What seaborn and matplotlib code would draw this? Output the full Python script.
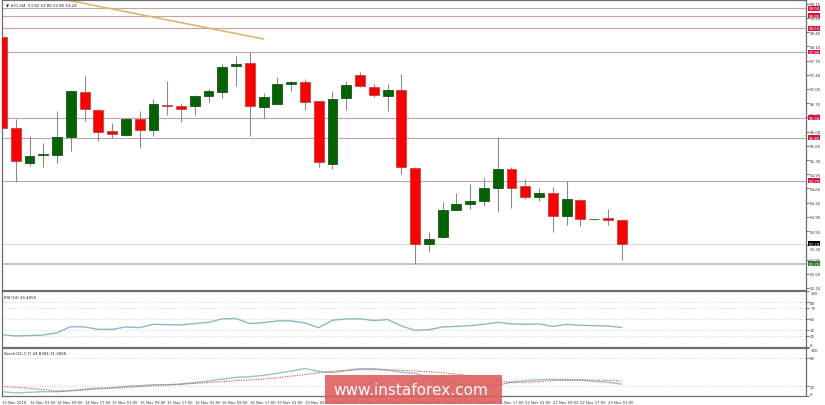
import numpy as np
import pandas as pd
import matplotlib
matplotlib.use("Agg")
import matplotlib.pyplot as plt
import matplotlib.transforms as mtransforms
import seaborn as sns
from matplotlib.patches import Rectangle

sns.set_style("white")
plt.rcParams['font.family'] = ['DejaVu Sans']

# CL H4 candles, 13 Nov 2018 -> 23 Nov 2018
opens = [58.34, 56.09, 55.23, 55.43, 55.43, 55.86, 56.97, 56.54, 56.01, 55.91,
         56.31, 56.04, 56.65, 56.62, 56.63, 56.87, 56.97, 57.61, 57.68, 56.61,
         56.69, 57.16, 57.23, 56.75, 55.19, 56.82, 57.40, 57.10, 56.88, 57.03,
         55.11, 53.24, 53.40, 54.07, 54.21, 54.29, 54.60, 55.08, 54.66, 54.40,
         54.50, 53.91, 54.31, 53.84, 53.87, 53.82]
highs = [58.38, 56.32, 55.90, 55.73, 56.50, 57.00, 57.37, 56.55, 56.21, 56.33,
         56.50, 56.80, 57.25, 56.70, 56.89, 57.05, 57.67, 57.87, 57.97, 56.95,
         57.34, 57.25, 57.29, 56.76, 57.00, 57.25, 57.46, 57.16, 57.16, 57.42,
         55.12, 53.52, 54.26, 54.48, 54.71, 54.85, 55.86, 55.14, 54.83, 54.60,
         54.64, 54.79, 54.34, 53.85, 54.09, 53.86]
lows = [56.05, 54.77, 55.16, 55.14, 55.22, 55.53, 56.25, 55.78, 55.84, 55.88,
        55.59, 55.90, 56.42, 56.23, 56.41, 56.74, 56.82, 57.13, 55.90, 56.34,
        56.69, 57.00, 56.54, 55.13, 55.08, 56.54, 57.10, 56.84, 56.51, 54.95,
        52.75, 53.04, 53.38, 54.06, 54.09, 54.16, 54.01, 54.13, 54.34, 54.28,
        53.52, 53.70, 53.68, 53.83, 53.71, 52.85]
closes = [56.09, 55.27, 55.40, 55.43, 55.87, 56.99, 56.55, 55.99, 55.93, 56.32,
          56.04, 56.68, 56.62, 56.55, 56.88, 56.99, 57.60, 57.67, 56.63, 56.84,
          57.17, 57.21, 56.73, 55.24, 56.81, 57.15, 57.12, 56.89, 57.02, 55.13,
          53.23, 53.36, 54.07, 54.21, 54.29, 54.60, 55.08, 54.62, 54.40, 54.49,
          53.93, 54.34, 53.84, 53.84, 53.82, 53.24]

rsi = [21.5, 19.3, 20.0, 20.9, 25.1, 36.0, 35.5, 31.1, 31.1, 35.5,
       34.2, 40.2, 39.6, 39.1, 41.5, 43.8, 50.0, 50.5, 41.5, 43.3,
       46.4, 46.4, 42.7, 34.2, 47.5, 50.0, 50.0, 46.9, 48.7, 37.3,
       29.3, 30.5, 35.5, 36.5, 37.8, 40.2, 43.8, 40.9, 40.2, 40.9,
       36.5, 40.2, 38.4, 37.8, 37.3, 34.47]
stoch_main = [9.0, 6.3, 7.7, 9.0, 9.0, 11.0, 14.2, 16.3, 17.1, 20.0,
              21.5, 23.5, 23.5, 25.0, 27.7, 31.3, 35.4, 38.8, 40.2, 43.1,
              47.3, 52.0, 57.3, 51.5, 48.5, 53.0, 57.0, 57.0, 54.0, 49.4,
              47.0, 40.0, 32.0, 25.0, 21.0, 20.0, 22.0, 29.2, 31.9, 34.0,
              34.7, 34.0, 33.3, 30.6, 28.5, 24.84]
stoch_signal = [20.2, 18.0, 16.0, 13.5, 10.0, 11.0, 12.5, 14.6, 16.5, 18.0,
                20.0, 21.5, 23.0, 24.5, 26.4, 27.8, 30.0, 32.0, 33.5, 35.4,
                38.0, 41.5, 44.5, 48.5, 51.5, 53.5, 55.0, 55.0, 54.4, 53.5,
                52.0, 50.5, 48.5, 45.5, 42.0, 37.0, 31.5, 28.0, 28.5, 30.0,
                32.0, 33.0, 33.3, 33.3, 32.5, 31.27]

level_prices = [59.04, 58.85, 58.55, 57.96, 56.34, 55.85, 54.79]
current_price = 53.24
support_price = 52.75
trend_x = [4.7, 19.0]
trend_y = [59.24, 58.28]

price_ticks = [52.15, 52.50, 52.85, 53.20, 53.55, 53.90, 54.25, 54.60, 54.95,
               55.30, 55.65, 56.00, 56.35, 56.70, 57.05, 57.40, 57.75, 58.10,
               58.45, 58.80, 59.15]
rsi_levels = [20, 30, 50, 70, 80]
rsi_ticks = [0, 20, 30, 50, 70, 80, 100]
stoch_levels = [20, 80]
stoch_ticks = [0, 20, 80, 100]
date_labels = ['13 Nov 2018', '14 Nov 01:00', '14 Nov 09:00', '14 Nov 17:00',
               '15 Nov 01:00', '15 Nov 09:00', '15 Nov 17:00', '16 Nov 01:00',
               '16 Nov 09:00', '16 Nov 17:00', '19 Nov 01:00', '19 Nov 09:00',
               '19 Nov 17:00', '20 Nov 01:00', '20 Nov 09:00', '20 Nov 17:00',
               '21 Nov 01:00', '21 Nov 09:00', '21 Nov 17:00', '22 Nov 01:00',
               '22 Nov 09:00', '22 Nov 17:00', '23 Nov 01:00']

df = pd.DataFrame({'open': opens, 'high': highs, 'low': lows, 'close': closes,
                   'rsi': rsi, 'main': stoch_main, 'signal': stoch_signal})
df['x'] = np.arange(len(df))
df['bottom'] = df[['open', 'close']].min(axis=1)
df['height'] = (df['close'] - df['open']).abs().clip(lower=0.012)
df['up'] = df['close'] >= df['open']

W, H = 825, 406
fig = plt.figure(figsize=(W / 100, H / 100), dpi=100)
left, width = 2 / W, 804 / W
ax_p = fig.add_axes([left, 1 - 291 / H, width, 290 / H])
ax_r = fig.add_axes([left, 1 - 347.7 / H, width, 55.7 / H])
ax_s = fig.add_axes([left, 1 - 397 / H, width, 48 / H])

xlim = (0.0, 58.39)
fs = 2.9
txt = '#333333'
box = dict(boxstyle='square,pad=0.12', ec='none')

# price panel
for p in level_prices:
    ax_p.axhline(p, color='#c9a0a8', lw=0.8, zorder=1)
    ax_p.text(1.003, p, f'{p:.2f}', transform=ax_p.get_yaxis_transform(),
              fontsize=fs, color='white', va='center', ha='left', clip_on=False,
              zorder=20, bbox=dict(box, fc='#d3163f'))
ax_p.axhline(current_price, color='#dcdcdc', lw=0.8, zorder=1)
ax_p.text(1.003, current_price, f'{current_price:.2f}', transform=ax_p.get_yaxis_transform(),
          fontsize=fs, color='white', va='center', ha='left', clip_on=False,
          zorder=20, bbox=dict(box, fc='black'))
ax_p.axhline(support_price, color='#b8cab8', lw=1.4, zorder=1)
ax_p.text(1.003, support_price, f'{support_price:.2f}', transform=ax_p.get_yaxis_transform(),
          fontsize=fs, color='white', va='center', ha='left', clip_on=False,
          zorder=20, bbox=dict(box, fc='#2e7d32'))
ax_p.plot(trend_x, trend_y, color='#d8b870', lw=1.2, zorder=1)

ax_p.vlines(df['x'], df['low'], df['high'], color='#8a8a8a', lw=0.8, zorder=2)
up = df[df['up']]
dn = df[~df['up']]
ax_p.bar(up['x'], up['height'], bottom=up['bottom'], width=0.72,
         color='#006400', edgecolor='#0d3d0d', lw=0.5, zorder=3)
ax_p.bar(dn['x'], dn['height'], bottom=dn['bottom'], width=0.72,
         color='#ff0000', edgecolor='#b83a3a', lw=0.5, zorder=3)

ax_p.set_ylim(52.10, 59.24)
ax_p.set_yticks(price_ticks)
ax_p.set_yticklabels([f'{t:.2f}' for t in price_ticks])
ax_p.text(0.005, 0.993, '\u25bc #CL,H4  53.82 53.86 52.85 53.24', transform=ax_p.transAxes,
          fontsize=fs, color='#222222', va='top', ha='left')

# RSI panel
for lv in rsi_levels:
    ax_r.axhline(lv, color='#c4c4c4', lw=0.6, ls=(0, (1, 2)))
sns.lineplot(data=df, x='x', y='rsi', ax=ax_r, color='#8fb5c9', lw=1.0)
ax_r.set_ylim(0, 100)
ax_r.set_yticks(rsi_ticks)
ax_r.text(0.003, 0.93, 'RSI(14) 34.4655', transform=ax_r.transAxes,
          fontsize=fs, color='#222222', va='top', ha='left')

# Stochastic panel
for lv in stoch_levels:
    ax_s.axhline(lv, color='#c4c4c4', lw=0.6, ls=(0, (1, 2)))
sns.lineplot(data=df, x='x', y='main', ax=ax_s, color='#92c6cf', lw=1.0)
sns.lineplot(data=df, x='x', y='signal', ax=ax_s, color='#d04848', lw=0.8, ls=(0, (1, 1.2)))
ax_s.set_ylim(0, 100)
ax_s.set_yticks(stoch_ticks)
ax_s.text(0.003, 0.93, 'Stoch(21,7,7) 24.8394 31.2666', transform=ax_s.transAxes,
          fontsize=fs, color='#222222', va='top', ha='left')
ax_s.set_xticks(np.arange(0, len(df), 2))
ax_s.set_xticklabels(date_labels, ha='left')

for ax in (ax_p, ax_r, ax_s):
    ax.set_xlim(*xlim)
    ax.set_xlabel('')
    ax.set_ylabel('')
    ax.yaxis.tick_right()
    ax.tick_params(axis='y', labelsize=fs, length=2, width=0.5, pad=1, colors=txt)
    ax.grid(False)
    for s in ax.spines.values():
        s.set_color('#6e6e6e')
        s.set_linewidth(0.9)
    if ax is not ax_s:
        ax.set_xticks([])
ax_s.tick_params(axis='x', labelsize=2.7, length=2, width=0.5, pad=1, colors=txt)

# keep the 0 / 100 labels inside their panels
for ax in (ax_r, ax_s):
    labels = ax.get_yticklabels()
    labels[0].set_va('bottom')
    labels[-1].set_va('top')

# price tick labels next to a level box are nudged clear of it
for lab, t in zip(ax_p.get_yticklabels(), price_ticks):
    if t == 56.35:
        lab.set_va('bottom')
    elif t == 53.20:
        lab.set_va('top')
        lab.set_transform(lab.get_transform() +
                          mtransforms.ScaledTranslation(0, -1.5 / 72, fig.dpi_scale_trans))

# watermark
fig.patches.append(Rectangle((325 / W, 1 - 405 / H), 177 / W, 29.5 / H,
                             transform=fig.transFigure, fc='#e05a5a', alpha=0.88,
                             ec='none', zorder=10))
fig.text(411 / W, 1 - 391 / H, 'www.instaforex.com', fontsize=11, color='white',
         ha='center', va='center', zorder=11)

fig.savefig('out.png', dpi=100, facecolor='white')
